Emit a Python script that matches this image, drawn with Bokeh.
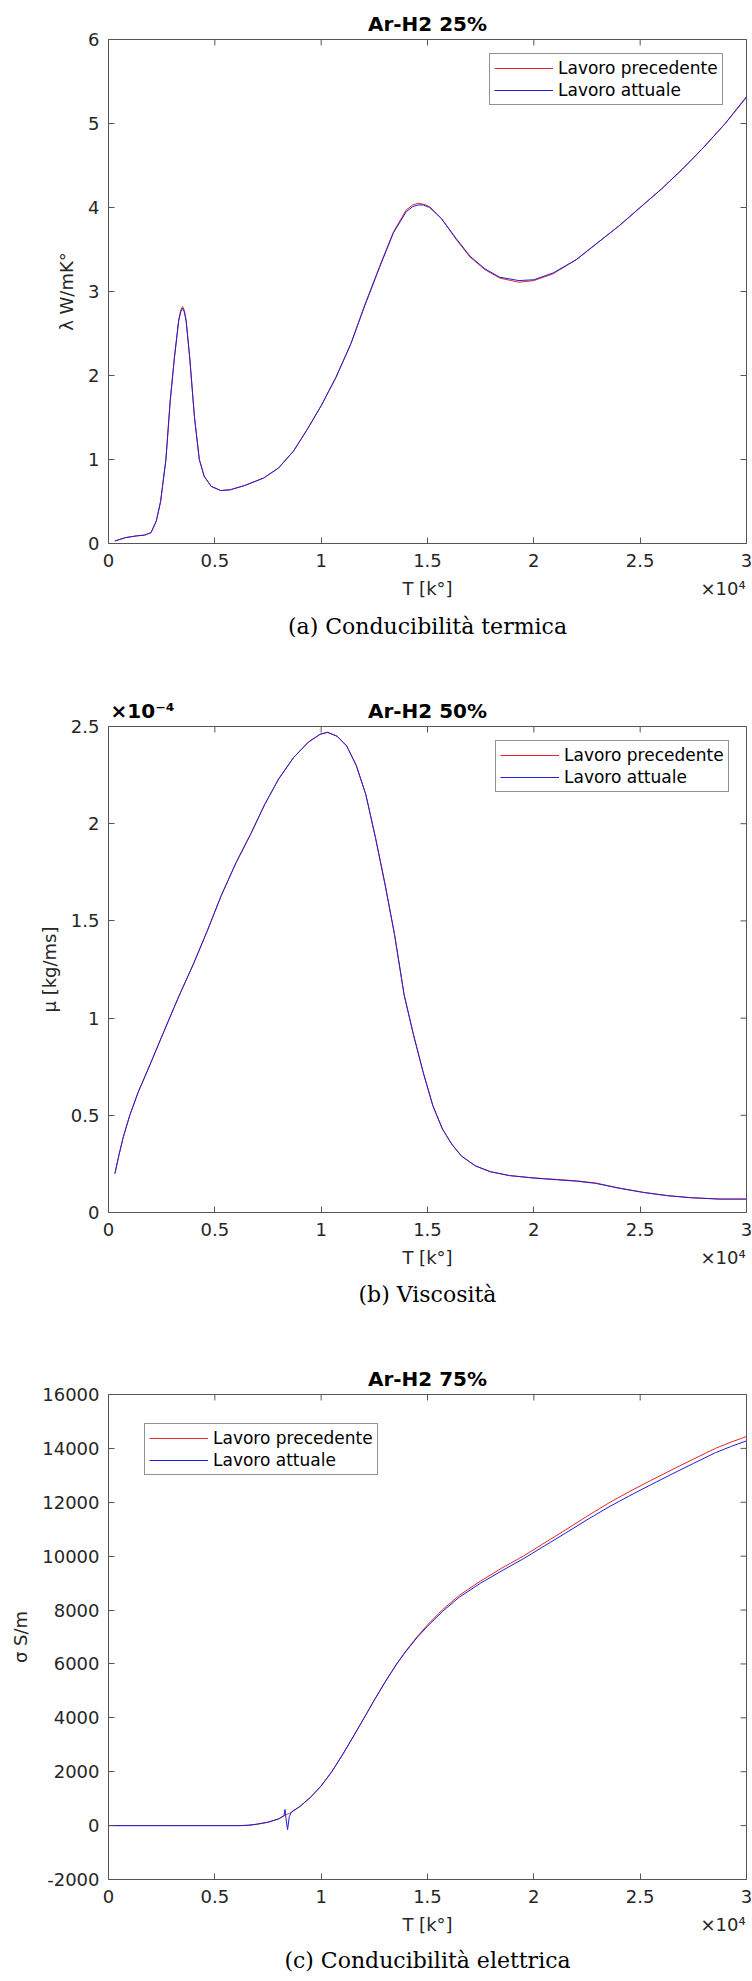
import math
from bokeh.plotting import figure
from bokeh.layouts import column
from bokeh.models import (Range1d, FixedTicker, LinearAxis, Title,
                          CustomJSTickFormatter)
from bokeh.embed import file_html
from bokeh.resources import INLINE

# ---------------- data ----------------
# (a) thermal conductivity, Ar-H2 25%
T1 = [300, 800, 1300, 1700, 2000, 2250, 2450, 2700, 2900, 3100, 3300, 3400,
      3480, 3560, 3650, 3820, 4040, 4270, 4500, 4830, 5280, 5730, 6400, 7300,
      8000, 8700, 9350, 10000, 10700, 11400, 12050, 12750, 13400, 14000,
      14300, 14550, 14800, 15100, 15650, 16350, 17000, 17700, 18400, 19300,
      20000, 20900, 22000, 23000, 24000, 25000, 26000, 27000, 28000, 29000,
      30000]
lam_prev = [0.03, 0.07, 0.09, 0.10, 0.13, 0.27, 0.50, 1.00, 1.70, 2.22, 2.66,
            2.78, 2.82, 2.78, 2.66, 2.21, 1.51, 1.00, 0.80, 0.68, 0.63, 0.64,
            0.69, 0.78, 0.90, 1.10, 1.36, 1.64, 1.98, 2.38, 2.84, 3.30, 3.71,
            3.97, 4.03, 4.05, 4.04, 4.01, 3.87, 3.62, 3.41, 3.26, 3.16, 3.11,
            3.13, 3.21, 3.38, 3.58, 3.78, 4.00, 4.22, 4.46, 4.72, 5.00, 5.31]
lam_att = [0.03, 0.07, 0.09, 0.10, 0.13, 0.27, 0.50, 1.00, 1.69, 2.21, 2.65,
           2.76, 2.80, 2.76, 2.65, 2.21, 1.51, 1.00, 0.80, 0.68, 0.63, 0.64,
           0.69, 0.78, 0.90, 1.10, 1.36, 1.64, 1.98, 2.38, 2.83, 3.29, 3.70,
           3.95, 4.01, 4.03, 4.03, 4.00, 3.87, 3.63, 3.42, 3.27, 3.17, 3.13,
           3.14, 3.22, 3.38, 3.58, 3.78, 4.00, 4.22, 4.46, 4.72, 5.00, 5.32]

# (b) viscosity, Ar-H2 50%
T2 = [300, 500, 700, 1000, 1400, 1950, 2600, 3300, 4000, 4650, 5300, 6000,
      6700, 7350, 8000, 8700, 9400, 9950, 10300, 10750, 11200, 11650, 12100,
      12550, 13000, 13450, 13900, 14350, 14800, 15250, 15700, 16150, 16600,
      17250, 17950, 18850, 20000, 21100, 22000, 22900, 24000, 25150, 26300,
      27400, 28750, 30000]
mu_prev = [0.20e-4, 0.30e-4, 0.39e-4, 0.50e-4, 0.62e-4, 0.76e-4, 0.93e-4,
           1.11e-4, 1.28e-4, 1.45e-4, 1.63e-4, 1.80e-4, 1.95e-4, 2.10e-4,
           2.23e-4, 2.34e-4, 2.42e-4, 2.46e-4, 2.47e-4, 2.45e-4, 2.40e-4,
           2.30e-4, 2.15e-4, 1.93e-4, 1.69e-4, 1.43e-4, 1.12e-4, 0.91e-4,
           0.72e-4, 0.55e-4, 0.43e-4, 0.35e-4, 0.29e-4, 0.24e-4, 0.21e-4,
           0.19e-4, 0.178e-4, 0.17e-4, 0.163e-4, 0.152e-4, 0.126e-4,
           0.104e-4, 0.087e-4, 0.076e-4, 0.069e-4, 0.069e-4]
mu_att = [0.20e-4, 0.30e-4, 0.39e-4, 0.50e-4, 0.62e-4, 0.76e-4, 0.93e-4,
          1.11e-4, 1.28e-4, 1.45e-4, 1.63e-4, 1.80e-4, 1.95e-4, 2.10e-4,
          2.23e-4, 2.34e-4, 2.42e-4, 2.46e-4, 2.47e-4, 2.45e-4, 2.40e-4,
          2.30e-4, 2.15e-4, 1.93e-4, 1.69e-4, 1.43e-4, 1.12e-4, 0.91e-4,
          0.72e-4, 0.55e-4, 0.43e-4, 0.35e-4, 0.29e-4, 0.24e-4, 0.21e-4,
          0.19e-4, 0.177e-4, 0.168e-4, 0.161e-4, 0.150e-4, 0.125e-4,
          0.103e-4, 0.086e-4, 0.076e-4, 0.069e-4, 0.069e-4]

# (c) electrical conductivity, Ar-H2 75%
T3 = [0, 3000, 6200, 6600, 7000, 7500, 8000, 8250, 8300, 8350, 8420, 8500,
      8600, 9000, 9500, 10000, 10500, 11000, 11500, 12000, 12500, 13000,
      13550, 14000, 14500, 15000, 15690, 16500, 17500, 18500, 19500, 20500,
      21500, 22500, 23580, 24500, 25500, 26500, 27500, 28540, 29300, 30000]
sig_prev = [0, 0, 0, 15, 55, 125, 250, 360, 385, 405, 430, 450, 500, 710,
            1050, 1475, 2000, 2625, 3290, 3970, 4660, 5320, 6000, 6500, 7000,
            7450, 8000, 8550, 9080, 9560, 10000, 10490, 10980, 11480, 12000,
            12400, 12810, 13210, 13600, 14000, 14240, 14440]
sig_att = [0, 0, 0, 15, 55, 125, 250, 370, 600, 250, -150, 330, 500, 710,
           1050, 1475, 2000, 2625, 3290, 3970, 4660, 5320, 6000, 6480, 6970,
           7400, 7940, 8480, 9000, 9460, 9900, 10380, 10860, 11350, 11850,
           12240, 12650, 13050, 13440, 13840, 14080, 14280]

x_ticks = [0, 5000, 10000, 15000, 20000, 25000, 30000]
y1_ticks = [0, 1, 2, 3, 4, 5, 6]
y2_ticks = [0, 0.5e-4, 1e-4, 1.5e-4, 2e-4, 2.5e-4]
y3_ticks = [-2000, 0, 2000, 4000, 6000, 8000, 10000, 12000, 14000, 16000]

# ---------------- style ----------------
SANS = "DejaVu Sans"
SERIF = "DejaVu Serif"
TXT = "#262626"
AXC = "#555555"
W = 752
LEFT, RIGHT = 108, 6

xfmt = "return (Math.round(tick/1e4*10)/10).toString();"


def panel(title, T, yp, ya, yr, yticks, yfmt, ylabel, caption, height, top,
          bottom, leg_xy, cap_standoff, ymult=None):
    p = figure(width=W, height=height, output_backend="svg",
               toolbar_location=None, title=None,
               x_range=Range1d(0, 30000),
               y_range=Range1d(*yr), min_border_left=LEFT,
               min_border_right=RIGHT, min_border_top=top,
               min_border_bottom=bottom, x_axis_location=None,
               y_axis_location=None)
    p.grid.visible = False
    p.outline_line_color = AXC
    p.outline_line_width = 1
    p.background_fill_color = "white"
    p.border_fill_color = "white"

    def style(ax):
        ax.axis_line_color = None
        ax.major_tick_in = 6
        ax.major_tick_out = 0
        ax.minor_tick_line_color = None
        ax.major_tick_line_color = AXC
        ax.major_label_text_font = SANS
        ax.major_label_text_color = TXT
        ax.major_label_text_font_size = "18px"
        ax.axis_label_text_font = SANS
        ax.axis_label_text_font_size = "18px"
        ax.axis_label_text_font_style = "normal"
        ax.axis_label_text_color = TXT

    # title row (with the exponent of the y axis on panel b)
    head_ticks = [15000] if ymult is None else [1600, 15000]
    head_fmt = ("return tick > 5000 ? %r : %r;" % (title, ymult or ""))
    xt = LinearAxis(ticker=FixedTicker(ticks=head_ticks),
                    formatter=CustomJSTickFormatter(code=head_fmt))
    style(xt)
    xt.major_tick_line_color = None
    xt.major_label_text_font_size = "20px"
    xt.major_label_text_font_style = "bold"
    xt.major_label_text_color = "black"
    xt.major_label_standoff = 4
    p.add_layout(xt, "above")

    # bottom axis: tick labels
    xb = LinearAxis(ticker=FixedTicker(ticks=x_ticks),
                    formatter=CustomJSTickFormatter(code=xfmt))
    style(xb)
    xb.major_label_standoff = 10
    p.add_layout(xb, "below")

    # second row below: axis title and the x10^4 exponent
    xl = LinearAxis(ticker=FixedTicker(ticks=[15000, 28900]),
                    formatter=CustomJSTickFormatter(
                        code="return tick > 20000 ? '×10⁴' : 'T [k°]';"))
    style(xl)
    xl.major_tick_line_color = None
    xl.major_label_standoff = 8
    p.add_layout(xl, "below")

    yl = LinearAxis(ticker=FixedTicker(ticks=yticks),
                    formatter=CustomJSTickFormatter(code=yfmt),
                    axis_label=ylabel)
    style(yl)
    yl.major_label_standoff = 9
    yl.axis_label_standoff = 8
    p.add_layout(yl, "left")

    # mirrored inward ticks on the top and right edges of the box
    p.scatter(x_ticks, [yr[1]] * len(x_ticks), marker="dash", size=12,
              angle=math.pi / 2, line_color=AXC, line_width=1)
    p.scatter([30000] * len(yticks), yticks, marker="dash", size=12,
              line_color=AXC, line_width=1)

    p.line(T, yp, line_color="#e8262a", line_width=1,
           legend_label="Lavoro precedente")
    p.line(T, ya, line_color="#1f1fd6", line_width=1,
           legend_label="Lavoro attuale")

    lg = p.legend[0]
    lg.location = leg_xy
    lg.label_text_font = SANS
    lg.label_text_font_size = "17px"
    lg.label_text_color = "black"
    lg.glyph_width = 59
    lg.glyph_height = 20
    lg.label_height = 20
    lg.label_standoff = 5
    lg.spacing = 2
    lg.padding = 4
    lg.margin = 0
    lg.border_line_color = TXT
    lg.border_line_width = 1
    lg.background_fill_alpha = 1.0

    cap = Title(text=caption, align="center", text_font=SERIF,
                text_font_size="22px", text_font_style="normal",
                text_color="black", standoff=cap_standoff)
    p.add_layout(cap, "below")
    return p


p1 = panel("Ar-H2 25%", T1, lam_prev, lam_att, (0, 6), y1_ticks,
           "return tick.toString();", "λ W/mK°",
           "(a) Conducibilità termica", 660, 39, 117, (381, 438), 21)
p2 = panel("Ar-H2 50%", T2, mu_prev, mu_att, (0, 2.5e-4), y2_ticks,
           "return (Math.round(tick/1e-4*10)/10).toString();",
           "μ [kg/ms]", "(b) Viscosità", 660, 66, 108, (387, 420), 18,
           ymult="×10⁻⁴")
p3 = panel("Ar-H2 75%", T3, sig_prev, sig_att, (-2000, 16000), y3_ticks,
           "return tick.toFixed(0);", "σ S/m",
           "(c) Conducibilità elettrica", 661, 74, 102, (36, 404), 16)

layout = column(p1, p2, p3, spacing=0)
open("out.html", "w").write(file_html(layout, INLINE))
